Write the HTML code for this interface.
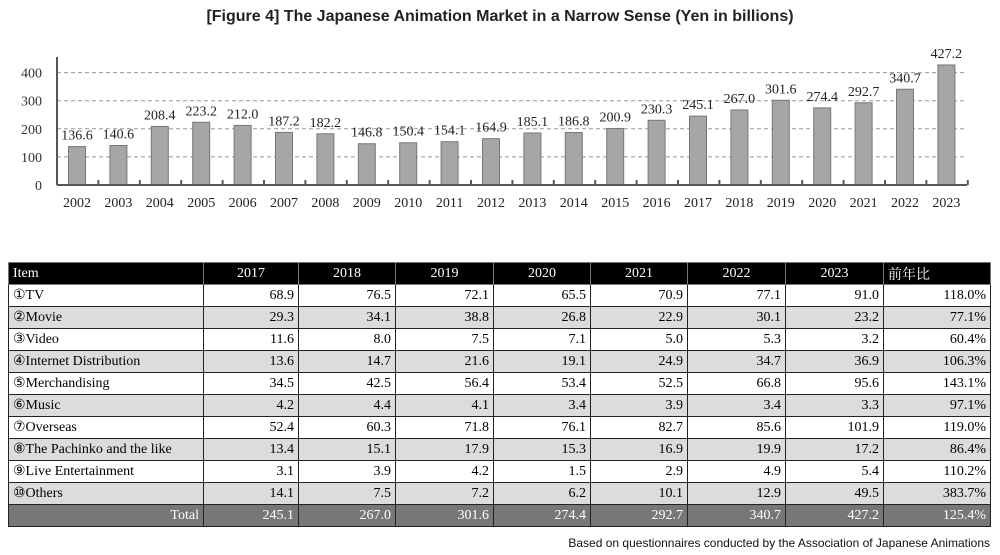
<!DOCTYPE html>
<html><head><meta charset="utf-8"><style>
body{margin:0;background:#fff;width:1000px;height:555px;overflow:hidden;position:relative;font-family:"Liberation Serif",serif}
#title{position:absolute;top:8px;left:0;width:1000px;text-align:center;font:bold 16px "Liberation Sans",sans-serif;color:#222}
table{position:absolute;left:8px;top:262px;width:982px;border-collapse:collapse;font-size:14px;table-layout:fixed}
td{border:1px solid #222;height:21px;padding:0 4px;text-align:right;white-space:nowrap;overflow:hidden}
td:first-child{text-align:left}
tr.h td{background:#000;color:#fff;border-color:#777}
tr.g td{background:#dcdcdc}
tr.t td{background:#777;color:#fff}
#foot{position:absolute;right:10px;top:536px;font:12px "Liberation Sans",sans-serif;color:#111}
</style></head><body>
<div id="title">[Figure 4] The Japanese Animation Market in a Narrow Sense (Yen in billions)</div>
<svg id="chart" width="1000" height="220" style="position:absolute;left:0;top:0"></svg>
<table>
<colgroup><col style="width:195px"><col style="width:95px"><col style="width:97px"><col style="width:98px"><col style="width:97px"><col style="width:97px"><col style="width:98px"><col style="width:98px"><col style="width:107px"></colgroup>
<tr class="h"><td>Item</td><td style="text-align:center">2017</td><td style="text-align:center">2018</td><td style="text-align:center">2019</td><td style="text-align:center">2020</td><td style="text-align:center">2021</td><td style="text-align:center">2022</td><td style="text-align:center">2023</td><td style="text-align:left;font-family:'Liberation Serif','Noto Serif CJK SC',serif">前年比</td></tr>
<tr><td>①TV</td><td>68.9</td><td>76.5</td><td>72.1</td><td>65.5</td><td>70.9</td><td>77.1</td><td>91.0</td><td>118.0%</td></tr>
<tr class="g"><td>②Movie</td><td>29.3</td><td>34.1</td><td>38.8</td><td>26.8</td><td>22.9</td><td>30.1</td><td>23.2</td><td>77.1%</td></tr>
<tr><td>③Video</td><td>11.6</td><td>8.0</td><td>7.5</td><td>7.1</td><td>5.0</td><td>5.3</td><td>3.2</td><td>60.4%</td></tr>
<tr class="g"><td>④Internet Distribution</td><td>13.6</td><td>14.7</td><td>21.6</td><td>19.1</td><td>24.9</td><td>34.7</td><td>36.9</td><td>106.3%</td></tr>
<tr><td>⑤Merchandising</td><td>34.5</td><td>42.5</td><td>56.4</td><td>53.4</td><td>52.5</td><td>66.8</td><td>95.6</td><td>143.1%</td></tr>
<tr class="g"><td>⑥Music</td><td>4.2</td><td>4.4</td><td>4.1</td><td>3.4</td><td>3.9</td><td>3.4</td><td>3.3</td><td>97.1%</td></tr>
<tr><td>⑦Overseas</td><td>52.4</td><td>60.3</td><td>71.8</td><td>76.1</td><td>82.7</td><td>85.6</td><td>101.9</td><td>119.0%</td></tr>
<tr class="g"><td>⑧The Pachinko and the like</td><td>13.4</td><td>15.1</td><td>17.9</td><td>15.3</td><td>16.9</td><td>19.9</td><td>17.2</td><td>86.4%</td></tr>
<tr><td>⑨Live Entertainment</td><td>3.1</td><td>3.9</td><td>4.2</td><td>1.5</td><td>2.9</td><td>4.9</td><td>5.4</td><td>110.2%</td></tr>
<tr class="g"><td>⑩Others</td><td>14.1</td><td>7.5</td><td>7.2</td><td>6.2</td><td>10.1</td><td>12.9</td><td>49.5</td><td>383.7%</td></tr>
<tr class="t"><td style="text-align:right">Total</td><td>245.1</td><td>267.0</td><td>301.6</td><td>274.4</td><td>292.7</td><td>340.7</td><td>427.2</td><td>125.4%</td></tr>
</table>
<div id="foot">Based on questionnaires conducted by the Association of Japanese Animations</div>
<script>
const years=["2002","2003","2004","2005","2006","2007","2008","2009","2010","2011","2012","2013","2014","2015","2016","2017","2018","2019","2020","2021","2022","2023"];
const values=[136.6,140.6,208.4,223.2,212.0,187.2,182.2,146.8,150.4,154.1,164.9,185.1,186.8,200.9,230.3,245.1,267.0,301.6,274.4,292.7,340.7,427.2];
const yTicks=[0,100,200,300,400];
const svg=document.getElementById('chart');
const NS='http://www.w3.org/2000/svg';
const x0=57,x1=967,base=185,scale=0.281,step=41.4,first=77;
const xs=i=>first+i*step, ys=v=>base-v*scale;
function mk(t,a,txt){const e=document.createElementNS(NS,t);for(const k in a)e.setAttribute(k,a[k]);if(txt!=null)e.textContent=txt;svg.appendChild(e);return e;}
yTicks.forEach(v=>{
 if(v>0){const g=mk('line',{x1:x0,x2:x1,y1:ys(v),y2:ys(v),stroke:'#999','stroke-dasharray':'4,3'});
 
 }
 const t=mk('text',{x:42,y:ys(v)+5,'text-anchor':'end','font-size':14,'font-family':'Liberation Serif',fill:'#333'},v);
 
 
});
values.forEach((v,i)=>{
 const r=mk('rect',{x:xs(i)-8.5,y:ys(v),width:17,height:v*scale,fill:'#a6a6a6',stroke:'#777','stroke-width':1});
 
 
 const l=mk('text',{x:xs(i),y:ys(v)-7,'text-anchor':'middle','font-size':14,'font-family':'Liberation Serif',fill:'#222'},v.toFixed(1));
 
 
 const xl=mk('text',{x:xs(i),y:207,'text-anchor':'middle','font-size':14,'font-family':'Liberation Serif',fill:'#222'},years[i]);
 
 
});
for(let k=0;k<=years.length;k++){const x=x0+k*step;const tk=mk('line',{x1:x,x2:x,y1:base,y2:base-5,stroke:'#555','stroke-width':2});
 
 }
const ax=mk('line',{x1:x0,x2:x1,y1:base,y2:base,stroke:'#555','stroke-width':2});


const ay=mk('line',{x1:x0,x2:x0,y1:57,y2:base,stroke:'#555','stroke-width':2});


</script>
</body></html>
